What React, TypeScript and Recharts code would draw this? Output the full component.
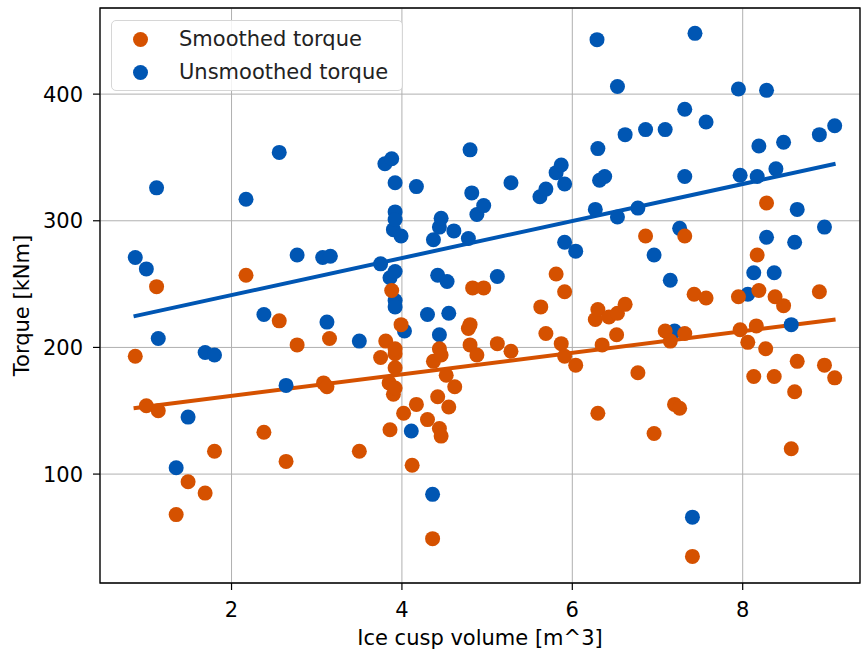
import { ScatterChart, Scatter, XAxis, YAxis, CartesianGrid, ReferenceArea } from 'recharts';

// torque vs ice cusp volume, two measurement sets plus their linear fits
const smoothedVolume = [
  0.87, 1.0, 1.12, 1.14, 1.35, 1.49, 1.69, 1.8, 2.17, 2.38,
  2.56, 2.64, 2.77, 3.08, 3.12, 3.15, 3.5, 3.75, 3.81, 3.85,
  3.86, 3.88, 3.9, 3.92, 3.92, 3.92, 3.92, 3.99, 4.02, 4.12,
  4.17, 4.3, 4.36, 4.37, 4.42, 4.44, 4.44, 4.46, 4.46, 4.52,
  4.55, 4.62, 4.78, 4.8, 4.8, 4.83, 4.88, 4.96, 5.12, 5.28,
  5.63, 5.69, 5.81, 5.87, 5.91, 5.91, 6.04, 6.27, 6.3, 6.3,
  6.35, 6.43, 6.52, 6.53, 6.62, 6.77, 6.86, 6.96, 7.09, 7.15,
  7.2, 7.26, 7.32, 7.32, 7.41, 7.43, 7.57, 7.95, 7.97, 8.06,
  8.13, 8.16, 8.17, 8.19, 8.27, 8.28, 8.37, 8.38, 8.48, 8.57,
  8.61, 8.64, 8.9, 8.96, 9.08,
];
const smoothedTorque = [
  193, 154, 248, 150, 68, 94, 85, 118, 257, 133,
  221, 110, 202, 172, 169, 207, 118, 192, 205, 172,
  135, 245, 163, 168, 184, 195, 199, 218, 148, 107,
  155, 143, 49, 189, 161, 136, 199, 130, 194, 178,
  153, 169, 215, 218, 202, 247, 194, 247, 203, 197,
  232, 211, 258, 203, 244, 193, 186, 222, 230, 148,
  202, 224, 210, 227, 234, 180, 288, 132, 213, 205,
  155, 152, 288, 211, 35, 242, 239, 240, 214, 204,
  177, 217, 273, 245, 199, 314, 177, 240, 233, 120,
  165, 189, 244, 186, 176,
];

const unsmoothedVolume = [
  0.87, 1.0, 1.12, 1.14, 1.35, 1.49, 1.69, 1.8, 2.17, 2.38,
  2.56, 2.64, 2.77, 3.07, 3.12, 3.16, 3.5, 3.75, 3.8, 3.86,
  3.88, 3.9, 3.92, 3.92, 3.92, 3.92, 3.92, 3.92, 3.99, 4.03,
  4.11, 4.17, 4.3, 4.36, 4.37, 4.42, 4.44, 4.44, 4.46, 4.53,
  4.55, 4.61, 4.78, 4.8, 4.82, 4.88, 4.96, 5.12, 5.28, 5.62,
  5.69, 5.81, 5.87, 5.91, 5.91, 6.04, 6.27, 6.29, 6.3, 6.32,
  6.38, 6.53, 6.53, 6.62, 6.77, 6.86, 6.96, 7.09, 7.15, 7.2,
  7.26, 7.32, 7.32, 7.41, 7.44, 7.57, 7.95, 7.97, 8.06, 8.13,
  8.17, 8.19, 8.28, 8.28, 8.37, 8.39, 8.48, 8.57, 8.61, 8.64,
  8.9, 8.96, 9.08,
];
const unsmoothedTorque = [
  271, 262, 326, 207, 105, 145, 196, 194, 317, 226,
  354, 170, 273, 271, 220, 272, 205, 266, 345, 255,
  349, 293, 330, 307, 301, 260, 237, 232, 288, 213,
  134, 327, 226, 84, 285, 257, 295, 210, 302, 252,
  227, 292, 286, 356, 322, 305, 312, 256, 330, 319,
  325, 338, 344, 329, 283, 276, 309, 443, 357, 332,
  335, 406, 303, 368, 310, 372, 273, 372, 253, 213,
  294, 388, 335, 66, 448, 378, 404, 336, 242, 259,
  335, 359, 403, 287, 259, 341, 362, 218, 283, 309,
  368, 295, 375,
];

// end points of the fitted lines
const fitVolume = [0.85, 9.09];
const smoothedFit = [152, 222];
const unsmoothedFit = [224.5, 345];

const xTicks = [2, 4, 6, 8];
const yTicks = [100, 200, 300, 400];

const ORANGE = '#d55100';
const BLUE = '#0056b3';
const FONT = "'DejaVu Sans', sans-serif";
const FONT_SIZE = 21;

const zip = (xs: number[], ys: number[]) => xs.map((x, i) => ({ x, y: ys[i] }));

const smoothed = zip(smoothedVolume, smoothedTorque);
const unsmoothed = zip(unsmoothedVolume, unsmoothedTorque);
const smoothedLine = zip(fitVolume, smoothedFit);
const unsmoothedLine = zip(fitVolume, unsmoothedFit);

const dot = (color: string) => (props: any) =>
  <circle cx={props.cx} cy={props.cy} r={7.5} fill={color} />;
const noDot = () => <g />;

const tickStyle = { fill: '#000', fontSize: FONT_SIZE, fontFamily: FONT };

function LegendBox() {
  const rows = [
    { label: 'Smoothed torque', color: ORANGE },
    { label: 'Unsmoothed torque', color: BLUE },
  ];
  return (
    <div
      style={{
        position: 'absolute', left: 111, top: 20, width: 292, height: 71,
        boxSizing: 'border-box', border: '1px solid #d6d6d6', borderRadius: 5,
        background: 'rgba(255,255,255,0.85)', fontFamily: FONT, fontSize: FONT_SIZE, color: '#222',
      }}
    >
      {rows.map((r, i) => (
        <div key={r.label} style={{ position: 'absolute', left: 0, top: 4 + i * 33, height: 28, display: 'flex', alignItems: 'center' }}>
          <span style={{ display: 'inline-block', width: 15, height: 15, borderRadius: '50%', background: r.color, marginLeft: 21 }} />
          <span style={{ marginLeft: 31, whiteSpace: 'nowrap' }}>{r.label}</span>
        </div>
      ))}
    </div>
  );
}

export default function App() {
  return (
    <div style={{ position: 'absolute', left: 0, top: 0, width: 861, height: 651, background: '#fff' }}>
      <ScatterChart width={861} height={651} margin={{ top: 8, right: 1, bottom: 0, left: 0 }}>
        <CartesianGrid stroke="#b0b0b0" strokeWidth={1} />
        <XAxis
          type="number" dataKey="x" domain={[0.456, 9.377]} ticks={xTicks} allowDataOverflow
          height={68} axisLine={false} tickSize={7} tickMargin={12}
          tickLine={{ stroke: '#000', strokeWidth: 1.2 }} tick={tickStyle}
          label={{ value: 'Ice cusp volume [m^3]', position: 'insideBottom', offset: 6, style: { fill: '#000', fontSize: FONT_SIZE, fontFamily: FONT } }}
        />
        <YAxis
          type="number" dataKey="y" domain={[14, 468]} ticks={yTicks} allowDataOverflow
          width={100} axisLine={false} tickSize={7} tickMargin={10}
          tickLine={{ stroke: '#000', strokeWidth: 1.2 }} tick={tickStyle}
          label={{ value: 'Torque [kNm]', angle: -90, position: 'insideLeft', offset: 22, dx: 0, dy: 10, style: { textAnchor: 'middle', fill: '#000', fontSize: FONT_SIZE, fontFamily: FONT } }}
        />
        <Scatter data={smoothedLine} line={{ stroke: ORANGE, strokeWidth: 4 }} shape={noDot} isAnimationActive={false} />
        <Scatter data={unsmoothedLine} line={{ stroke: BLUE, strokeWidth: 4 }} shape={noDot} isAnimationActive={false} />
        <Scatter name="Unsmoothed torque" data={unsmoothed} shape={dot(BLUE)} isAnimationActive={false} />
        <Scatter name="Smoothed torque" data={smoothed} shape={dot(ORANGE)} isAnimationActive={false} />
        <ReferenceArea x1={0.456} x2={9.377} y1={14} y2={468} fill="none" fillOpacity={0} stroke="#000" strokeWidth={1.3} />
      </ScatterChart>
      <LegendBox />
    </div>
  );
}
